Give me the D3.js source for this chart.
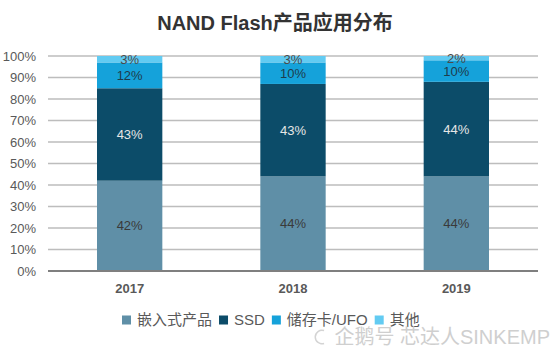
<!DOCTYPE html>
<html>
<head>
<meta charset="utf-8">
<script src="https://cdn.jsdelivr.net/npm/d3@7"></script>
<style>
  body { margin: 0; background: #fff; }
  text { font-family: "Liberation Sans", Arial, "Noto Sans CJK SC", sans-serif; }
</style>
</head>
<body>
<div id="chart"></div>
<script>
const years = ["2017", "2018", "2019"];
const seriesNames = ["嵌入式产品", "SSD", "储存卡/UFO", "其他"];
const embedded = [42, 44, 44];
const ssd = [43, 43, 44];
const card = [12, 10, 10];
const other = [3, 3, 2];
const yTicks = [0, 10, 20, 30, 40, 50, 60, 70, 80, 90, 100];

const colors = ["#5f8fa7", "#0c4c69", "#15a2da", "#62cbf2"];
const labelColors = ["#3a3a3a", "#e6e6e6", "#1e3c4c", "#4a4a4a"];

const W = 551, H = 347;
const margin = {top: 56, right: 13, bottom: 76, left: 48};
const width = W - margin.left - margin.right;
const height = H - margin.top - margin.bottom;

const svg = d3.select("#chart").append("svg")
    .attr("width", W)
    .attr("height", H);

svg.append("text")
    .attr("x", 275)
    .attr("y", 30)
    .attr("text-anchor", "middle")
    .style("font-size", "20px")
    .style("font-weight", "bold")
    .style("fill", "#333")
    .text("NAND Flash产品应用分布");

const g = svg.append("g").attr("transform", `translate(${margin.left},${margin.top})`);

const x = d3.scaleBand().domain(years).range([0, width]).paddingInner(0.6).paddingOuter(0.3);
const y = d3.scaleLinear().domain([0, 100]).range([height, 0]);

// horizontal gridlines
g.append("g")
    .selectAll("line")
    .data(yTicks.filter(t => t > 0))
    .join("line")
    .attr("x1", 0)
    .attr("x2", width)
    .attr("y1", d => y(d))
    .attr("y2", d => y(d))
    .style("stroke", "#bdbdbd")
    .style("stroke-width", 1.5);

const table = years.map((yr, i) => ({
    year: yr,
    [seriesNames[0]]: embedded[i],
    [seriesNames[1]]: ssd[i],
    [seriesNames[2]]: card[i],
    [seriesNames[3]]: other[i]
}));

const stacked = d3.stack().keys(seriesNames)(table);

const layers = g.selectAll(".layer")
    .data(stacked)
    .join("g")
    .attr("class", "layer")
    .style("fill", (d, i) => colors[i]);

layers.selectAll("rect")
    .data(d => d)
    .join("rect")
    .attr("x", d => x(d.data.year))
    .attr("width", x.bandwidth())
    .attr("y", d => y(d[1]))
    .attr("height", d => y(d[0]) - y(d[1]));

layers.each(function(layer, i) {
    d3.select(this).selectAll("text")
        .data(layer)
        .join("text")
        .attr("x", d => x(d.data.year) + x.bandwidth() / 2)
        .attr("y", d => y((d[0] + d[1]) / 2))
        .attr("dy", "0.35em")
        .attr("text-anchor", "middle")
        .style("font-size", "13px")
        .style("fill", labelColors[i])
        .text(d => (d[1] - d[0]) + "%");
});

// baseline
g.append("line")
    .attr("x1", 0)
    .attr("x2", width)
    .attr("y1", height)
    .attr("y2", height)
    .style("stroke", "#7f7f7f")
    .style("stroke-width", 2);

const yAxis = g.append("g")
    .call(d3.axisLeft(y).tickValues(yTicks).tickFormat(d => d + "%").tickSize(0).tickPadding(12));
yAxis.select(".domain").remove();
yAxis.selectAll("text")
    .style("font-size", "13px")
    .style("fill", "#595959");

const xAxis = g.append("g")
    .attr("transform", `translate(0,${height})`)
    .call(d3.axisBottom(x).tickSize(0).tickPadding(13));
xAxis.select(".domain").remove();
xAxis.selectAll("text")
    .style("font-size", "13px")
    .style("font-weight", "bold")
    .style("fill", "#595959");

// legend
const legend = svg.append("g").attr("transform", "translate(122,320)");
let lx = 0;
seriesNames.forEach((name, i) => {
    const item = legend.append("g").attr("transform", `translate(${lx},0)`);
    item.append("rect")
        .attr("x", 0).attr("y", -4.5)
        .attr("width", 9).attr("height", 9)
        .style("fill", colors[i]);
    const t = item.append("text")
        .attr("x", 15)
        .attr("dy", "0.35em")
        .style("font-size", "15px")
        .style("fill", "#595959")
        .text(name);
    lx += 15 + t.node().getComputedTextLength() + 7;
});

// watermark
const wm = svg.append("g").attr("transform", "translate(0,337)");
wm.append("path")
    .attr("d", d3.arc()({innerRadius: 6, outerRadius: 7.5, startAngle: Math.PI * 0.9, endAngle: Math.PI * 2.1}))
    .attr("transform", "translate(322,0)")
    .style("fill", "#d4d4d4");
wm.append("text")
    .attr("x", 550)
    .attr("dy", "0.35em")
    .attr("text-anchor", "end")
    .style("font-size", "20px")
    .style("fill", "#cfcfcf")
    .text("企鹅号 芯达人SINKEMP");
</script>
</body>
</html>
